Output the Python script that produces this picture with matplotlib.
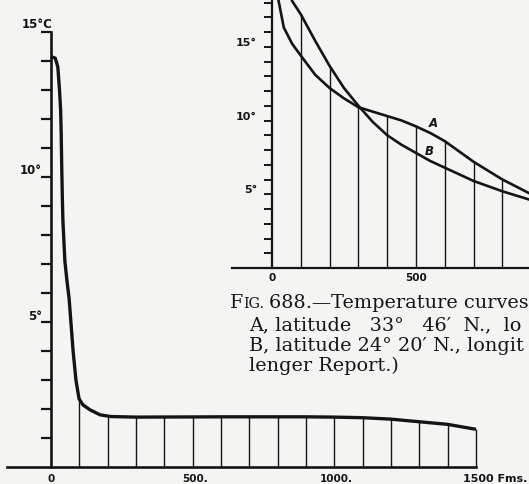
import numpy as np
import matplotlib
matplotlib.use("Agg")
import matplotlib.pyplot as plt

# ---------------- data ----------------
# Left chart: temperature (°C) vs depth (fathoms)
depth_main = [0, 15, 24, 30, 34, 36, 38, 40, 42, 49, 56, 64, 78, 88, 99, 113, 138, 173, 210,
              300, 600, 900, 1000, 1100, 1200, 1300, 1400, 1500]
temp_main = [14.15, 14.1, 13.8, 13.0, 12.3, 11.5, 10.3, 9.3, 8.5, 7.1, 6.45, 5.8, 4.0, 3.0, 2.35, 2.14,
             1.97, 1.8, 1.74, 1.72, 1.73, 1.73, 1.72, 1.7, 1.65, 1.56, 1.47, 1.3]
main_verticals = list(range(100, 1501, 100))
main_yticks = list(range(1, 16))
main_ylabels = {15: "15°C", 10: "10°", 5: "5°"}
main_xlabels = {0: "0", 500: "500.", 1000: "1000.", 1500: "1500 Fms."}

# Inset chart: curves A and B
depth_A = [18, 23, 41, 70, 100, 150, 200, 250, 300, 350, 400, 450, 500, 550, 600, 650, 700, 750, 800, 850, 900, 950]
temp_A = [18.6, 18.1, 16.3, 15.2, 14.4, 13.1, 12.2, 11.5, 10.9, 10.6, 10.3, 10.0, 9.6, 9.15, 8.6, 7.9, 7.2, 6.6, 6.0, 5.5, 5.0, 4.6]
depth_B = [62, 70, 100, 150, 200, 250, 300, 350, 400, 450, 500, 550, 600, 650, 700, 750, 800, 850, 900, 950]
temp_B = [18.5, 18.1, 17.2, 15.4, 13.7, 12.2, 11.0, 9.9, 9.0, 8.35, 7.8, 7.25, 6.8, 6.35, 5.9, 5.55, 5.2, 4.9, 4.6, 4.4]
inset_verticals = list(range(100, 1001, 100))
inset_yticks = list(range(1, 19))
inset_ylabels = {15: "15°", 10: "10°", 5: "5°"}
inset_xlabels = {0: "0", 500: "500"}
label_A, label_B = "A", "B"

caption_head = ("F", "IG.", "688.—Temperature curves")
caption_lines = ["A, latitude   33°   46′  N.,  lo",
                 "B, latitude 24° 20′ N., longit",
                 "lenger Report.)"]

# ---------------- figure ----------------
W, H = 529, 484
BG = "#f4f4f2"
INK = "#141414"
fig = plt.figure(figsize=(W / 100, H / 100), dpi=100)
fig.patch.set_facecolor(BG)

# ---- main (left) chart ----
x0, y0, sx, sy = 51, 467, 425 / 1500, 29.0  # pixel origin and scale
ax = fig.add_axes([0, 0, 1, 1])
ax.set_facecolor("none")
ax.set_xlim(-x0 / sx, (W - x0) / sx)
ax.set_ylim((y0 - H) / sy, y0 / sy)
for s in ("top", "right"):
    ax.spines[s].set_visible(False)
ax.spines["left"].set_position(("data", 0))
ax.spines["bottom"].set_position(("data", 0))
ax.spines["left"].set_bounds(0, 15)
ax.spines["bottom"].set_bounds(-155, 1500)
for s in ("left", "bottom"):
    ax.spines[s].set_linewidth(1.9)
    ax.spines[s].set_color(INK)
ax.set_xticks([])
ax.set_yticks(main_yticks)
ax.tick_params(axis="y", direction="out", length=7, width=1.6, color=INK, labelleft=False)

ax.plot(depth_main, temp_main, color=INK, lw=2.4, solid_capstyle="butt", solid_joinstyle="round")
vt = np.interp(main_verticals, depth_main, temp_main)
ax.vlines(main_verticals, 0, vt, color=INK, lw=1.0)

lab_font = dict(family="DejaVu Sans", weight="bold", color=INK)
for v, t in main_ylabels.items():
    dx, dy = (2, 7) if v == 15 else (-9, 6)
    ax.annotate(t, xy=(0, v), xytext=(dx, dy), textcoords="offset pixels",
                ha="right", va="center", fontsize=8.5, **lab_font)
for v, t in main_xlabels.items():
    if t.startswith("1500"):
        ax.annotate(t, xy=(v, 0), xytext=(-13, -12), textcoords="offset pixels",
                    ha="left", va="center", fontsize=8, **lab_font)
    else:
        ax.annotate(t, xy=(v, 0), xytext=(2 if v else 0, -12), textcoords="offset pixels",
                    ha="center", va="center", fontsize=7.5, **lab_font)

# ---- inset (right) chart ----
ix0, iy0, isx, isy = 272, 268, 0.288, 14.75
L, R, T, B = 200, W, 0, 300
ax2 = fig.add_axes([L / W, 1 - B / H, (R - L) / W, (B - T) / H])
ax2.set_facecolor("none")
ax2.set_xlim((L - ix0) / isx, (R - ix0) / isx)
ax2.set_ylim((iy0 - B) / isy, (iy0 - T) / isy)
for s in ("top", "right"):
    ax2.spines[s].set_visible(False)
ax2.spines["left"].set_position(("data", 0))
ax2.spines["bottom"].set_position(("data", 0))
ax2.spines["left"].set_bounds(0, 20)
ax2.spines["bottom"].set_bounds(-139, 1100)
for s in ("left", "bottom"):
    ax2.spines[s].set_linewidth(1.6)
    ax2.spines[s].set_color(INK)
ax2.set_xticks([])
ax2.set_yticks(inset_yticks)
ax2.tick_params(axis="y", direction="out", length=6, width=1.4, color=INK, labelleft=False)

ax2.plot(depth_A, temp_A, color=INK, lw=1.9)
ax2.plot(depth_B, temp_B, color=INK, lw=1.9)
vtop = np.maximum(np.interp(inset_verticals, depth_A, temp_A), np.interp(inset_verticals, depth_B, temp_B))
ax2.vlines(inset_verticals, 0, vtop, color=INK, lw=1.0)

for v, t in inset_ylabels.items():
    ax2.annotate(t, xy=(0, v), xytext=(-15, 4), textcoords="offset pixels",
                 ha="right", va="center", fontsize=8, **lab_font)
for v, t in inset_xlabels.items():
    ax2.annotate(t, xy=(v, 0), xytext=(0, -10), textcoords="offset pixels",
                 ha="center", va="center", fontsize=7.5, **lab_font)

ax2.annotate(label_A, xy=(559, float(np.interp(559, depth_A, temp_A))), xytext=(0, 11),
             textcoords="offset pixels", ha="center", va="center", fontsize=8.5,
             style="italic", **lab_font)
ax2.annotate(label_B, xy=(545, float(np.interp(545, depth_B, temp_B))), xytext=(0, 9),
             textcoords="offset pixels", ha="center", va="center", fontsize=8.5,
             style="italic", **lab_font)

# ---- caption ----
cap_font = dict(family="DejaVu Serif", color=INK)
fs = 13.9
renderer = fig.canvas.get_renderer()
base1 = 1 - 308 / H
t1 = fig.text(230 / W, base1, caption_head[0], fontsize=fs, va="baseline", ha="left", **cap_font)
ext = t1.get_window_extent(renderer)
t2 = fig.text(ext.x1 / W, base1, caption_head[1], fontsize=fs * 0.74, va="baseline", ha="left", **cap_font)
ext = t2.get_window_extent(renderer)
fig.text(ext.x1 / W + 5 / W, base1, caption_head[2], fontsize=fs,
         va="baseline", ha="left", **cap_font)
for i, (line, yb) in enumerate(zip(caption_lines, (330, 351, 371))):
    fig.text(249 / W, 1 - yb / H, line, fontsize=fs, va="baseline", ha="left", **cap_font)

fig.savefig("out.png", dpi=100, facecolor=BG)
